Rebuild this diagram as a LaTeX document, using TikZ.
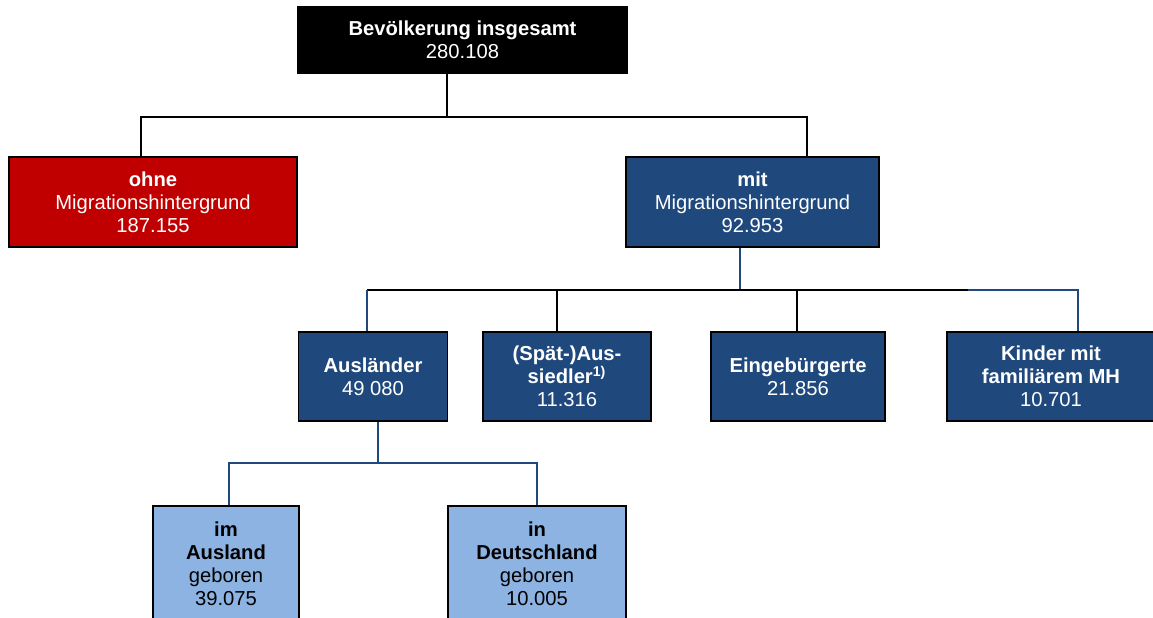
\documentclass[tikz,border=0pt]{standalone}
\usepackage{fontspec}
\setmainfont{Liberation Sans}
\definecolor{ohnered}{HTML}{C00000}
\definecolor{mitblue}{HTML}{1F497D}
\definecolor{lightblue}{HTML}{8DB3E2}
\tikzset{
  box/.style={draw=black,line width=1.1pt,inner sep=0pt,align=center,
    font=\fontsize{11.5}{13}\selectfont},
  darkbox/.style={box,fill=mitblue,text=white},
  lightbox/.style={box,fill=lightblue,text=black},
  conn/.style={black,line width=0.8pt},
  bconn/.style={mitblue,line width=0.8pt}
}
\begin{document}
\begin{tikzpicture}[x=0.02cm,y=-0.02cm]
\useasboundingbox (0,0) rectangle (1153,618);

\node[box,fill=black,text=white,minimum width=6.58cm,minimum height=1.32cm] (top) at (462.5,40)
  {\textbf{Bevölkerung insgesamt}\\280.108};
\node[box,fill=ohnered,text=white,minimum width=5.76cm,minimum height=1.8cm] (ohne) at (153,202)
  {\textbf{ohne}\\Migrationshintergrund\\187.155};
\node[darkbox,minimum width=5.06cm,minimum height=1.8cm] (mit) at (752.5,202)
  {\textbf{mit}\\Migrationshintergrund\\92.953};

\node[darkbox,minimum width=2.98cm,minimum height=1.78cm] (ausl) at (373,376.5)
  {\textbf{Ausländer}\\49 080};
\node[darkbox,minimum width=3.36cm,minimum height=1.78cm] (spaet) at (567,376.5)
  {\textbf{(Spät-)Aus-}\\\textbf{siedler\textsuperscript{1)}}\\11.316};
\node[darkbox,minimum width=3.48cm,minimum height=1.78cm] (einb) at (798,376.5)
  {\textbf{Eingebürgerte}\\21.856};
\node[darkbox,minimum width=4.16cm,minimum height=1.78cm] (kind) at (1051,376.5)
  {\textbf{Kinder mit}\\\textbf{familiärem MH}\\10.701};

\node[lightbox,minimum width=2.92cm,minimum height=2.32cm] (imaus) at (226,564)
  {\textbf{im}\\\textbf{Ausland}\\geboren\\39.075};
\node[lightbox,minimum width=3.56cm,minimum height=2.32cm] (indeu) at (537,564)
  {\textbf{in}\\\textbf{Deutschland}\\geboren\\10.005};

% first level
\coordinate (b0) at (447,117);
\coordinate (b1) at (141,117);
\coordinate (b2) at (807,117);
\draw[conn] (b0 |- top.south) -- (b0);
\draw[conn] (b1 |- ohne.north) -- (b1) -- (b2) -- (b2 |- mit.north);

% second level
\coordinate (m0) at (740,290);
\coordinate (m1) at (367,290);
\coordinate (m2) at (557,290);
\coordinate (m3) at (797,290);
\coordinate (m4) at (968,290);
\coordinate (m5) at (1078,290);
\draw[bconn] (m0 |- mit.south) -- (m0);
\draw[conn] (m1) -- (m4);
\draw[bconn] (m4) -- (m5) -- (m5 |- kind.north);
\draw[bconn] (m1) -- (m1 |- ausl.north);
\draw[conn] (m2) -- (m2 |- spaet.north);
\draw[conn] (m3) -- (m3 |- einb.north);

% third level
\coordinate (a0) at (378,463);
\coordinate (a1) at (229,463);
\coordinate (a2) at (537,463);
\draw[bconn] (a0 |- ausl.south) -- (a0);
\draw[bconn] (a1 |- imaus.north) -- (a1) -- (a2) -- (a2 |- indeu.north);

\end{tikzpicture}
\end{document}
